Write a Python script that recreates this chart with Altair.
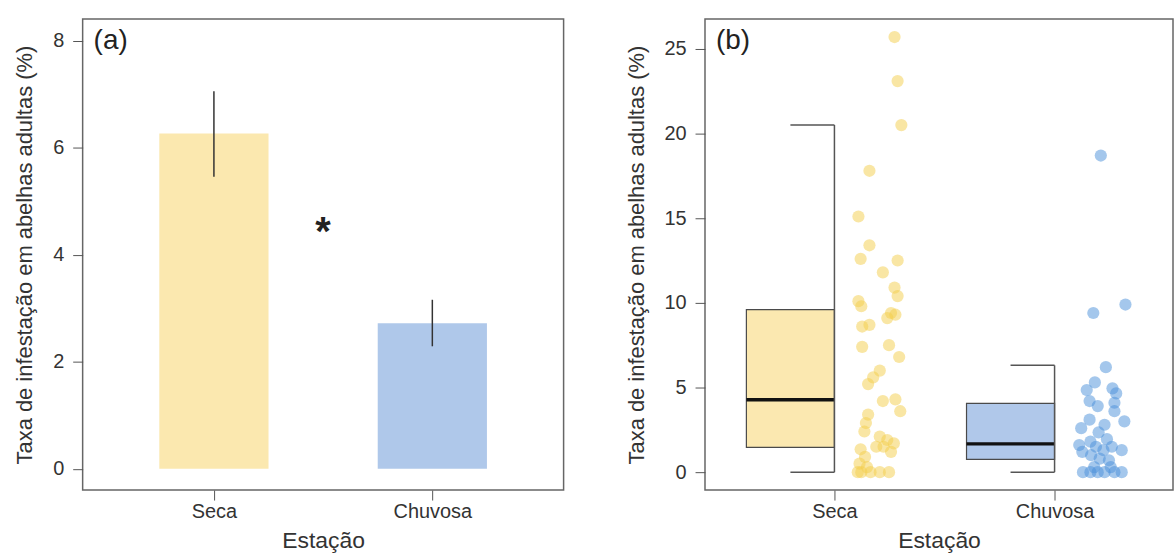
import altair as alt
import pandas as pd

# ---------------- data ----------------
categories = ["Seca", "Chuvosa"]
cat_pos = [1, 2]

# panel (a): means and error bars
bar_means = [6.27, 2.72]
err_low = [5.46, 2.29]
err_high = [7.06, 3.16]
bar_colors = ["#FBE8AF", "#AFC8EA"]

# panel (b): box summaries
box_q1 = [1.46, 0.75]
box_median = [4.27, 1.67]
box_q3 = [9.6, 4.06]
whisk_lo = [0.0, 0.0]
whisk_hi = [20.5, 6.31]
box_colors = ["#FBE8B0", "#B0C8EA"]
point_colors = ["#F4CE4A", "#4A90DA"]

seca_values = [25.7, 23.1, 20.5, 17.8, 15.1, 13.4, 12.6, 12.5, 11.8, 10.9,
               10.4, 10.1, 9.8, 9.4, 9.3, 9.1, 8.7, 8.6, 7.4, 7.5,
               6.8, 6.0, 5.6, 5.2, 4.2, 4.3, 3.6, 3.4, 2.9, 2.4,
               2.1, 1.9, 1.7, 1.5, 1.2, 1.35, 0.9, 0.5, 1.5, 0.0,
               0.0, 0.0, 0.0, 0.0, 0.3]
seca_jitter = [0.273, 0.287, 0.304, 0.159, 0.109, 0.159, 0.119, 0.287, 0.220, 0.273,
               0.287, 0.109, 0.122, 0.257, 0.277, 0.240, 0.159, 0.126, 0.126, 0.248,
               0.294, 0.206, 0.176, 0.153, 0.220, 0.277, 0.299, 0.153, 0.143, 0.136,
               0.206, 0.240, 0.270, 0.223, 0.257, 0.119, 0.139, 0.114, 0.190, 0.122,
               0.164, 0.206, 0.248, 0.106, 0.148]

chuvosa_values = [18.7, 9.9, 9.4, 6.2, 5.3, 4.85, 4.95, 4.65, 4.2, 4.1,
                  3.9, 3.6, 3.0, 3.1, 2.6, 2.8, 2.35, 1.95, 1.8, 1.6,
                  1.5, 1.3, 1.5, 1.3, 1.2, 1.0, 0.8, 0.7, 0.0, 0.0,
                  0.0, 0.0, 0.0, 0.0, 0.3, 0.3]
chuvosa_jitter = [0.210, 0.322, 0.176, 0.233, 0.183, 0.146, 0.263, 0.280, 0.159, 0.272,
                  0.196, 0.272, 0.317, 0.159, 0.121, 0.227, 0.200, 0.238, 0.163, 0.112,
                  0.188, 0.222, 0.260, 0.305, 0.126, 0.166, 0.205, 0.247, 0.129, 0.163,
                  0.196, 0.227, 0.272, 0.305, 0.180, 0.255]

y_ticks_a = [0, 2, 4, 6, 8]
y_ticks_b = [0, 5, 10, 15, 20, 25]
y_title = "Taxa de infestação em abelhas adultas (%)"
x_title = "Estação"

FONT = "Liberation Sans"
TXT = "#333333"

label_expr = "datum.value == 1 ? 'Seca' : 'Chuvosa'"

# ---------------- panel (a) ----------------
dfa = pd.DataFrame({"cat": categories, "pos": cat_pos, "mean": bar_means,
                    "lo": err_low, "hi": err_high})
dfa["x0"] = dfa["pos"] - 0.25
dfa["x1"] = dfa["pos"] + 0.25

xa_scale = alt.Scale(domain=[0.399, 2.601], nice=False, zero=False)
ya_scale = alt.Scale(domain=[-0.4, 8.41], nice=False, zero=False)
xa_axis = alt.Axis(values=[1, 2], labelExpr=label_expr, title=x_title)
ya_axis = alt.Axis(values=y_ticks_a, title=y_title)

bars = alt.Chart(dfa).mark_rect().encode(
    x=alt.X("x0:Q", scale=xa_scale, axis=xa_axis),
    x2="x1:Q",
    y=alt.Y("mean:Q", scale=ya_scale, axis=ya_axis),
    y2=alt.datum(0),
    color=alt.Color("cat:N", scale=alt.Scale(domain=categories, range=bar_colors), legend=None),
)
errs = alt.Chart(dfa).mark_rule(color="#333333", strokeWidth=1.5).encode(
    x=alt.X("pos:Q", scale=xa_scale, axis=xa_axis),
    y=alt.Y("lo:Q", scale=ya_scale, axis=ya_axis),
    y2="hi:Q",
)
star_df = pd.DataFrame({"x": [1.5], "y": [4.57], "t": ["*"]})
star = alt.Chart(star_df).mark_text(fontSize=40, fontWeight="bold", font=FONT,
                                    color="#222222", baseline="alphabetic", dy=21).encode(
    x=alt.X("x:Q", scale=xa_scale, axis=xa_axis),
    y=alt.Y("y:Q", scale=ya_scale, axis=ya_axis),
    text="t:N",
)
lab_a = alt.Chart(pd.DataFrame({"t": ["(a)"]})).mark_text(
    fontSize=28, font=FONT, color="#222222", align="left", baseline="middle").encode(
    x=alt.value(11), y=alt.value(22), text="t:N")

panel_a = alt.layer(bars, errs, star, lab_a).properties(width=483, height=473)

# ---------------- panel (b) ----------------
dfb = pd.DataFrame({"cat": categories, "pos": cat_pos, "q1": box_q1, "med": box_median,
                    "q3": box_q3, "lo": whisk_lo, "hi": whisk_hi})
dfb["xl"] = dfb["pos"] - 0.4
dfb["xc"] = dfb["pos"] - 0.2

pts = pd.concat([
    pd.DataFrame({"cat": "Seca", "v": seca_values, "j": seca_jitter, "pos": 1}),
    pd.DataFrame({"cat": "Chuvosa", "v": chuvosa_values, "j": chuvosa_jitter, "pos": 2}),
], ignore_index=True)
pts["x"] = pts["pos"] + pts["j"]

xb_scale = alt.Scale(domain=[0.412, 2.538], nice=False, zero=False)
yb_scale = alt.Scale(domain=[-1.06, 26.76], nice=False, zero=False)
xb_axis = alt.Axis(values=[1, 2], labelExpr=label_expr, title=x_title)
yb_axis = alt.Axis(values=y_ticks_b, title=y_title)

box = alt.Chart(dfb).mark_rect(stroke="#4a4a4a", strokeWidth=1.2).encode(
    x=alt.X("xl:Q", scale=xb_scale, axis=xb_axis),
    x2="pos:Q",
    y=alt.Y("q1:Q", scale=yb_scale, axis=yb_axis),
    y2="q3:Q",
    color=alt.Color("cat:N", scale=alt.Scale(domain=categories, range=box_colors), legend=None),
)
med = alt.Chart(dfb).mark_rule(color="#111111", strokeWidth=3.5).encode(
    x=alt.X("xl:Q", scale=xb_scale, axis=xb_axis),
    x2="pos:Q",
    y=alt.Y("med:Q", scale=yb_scale, axis=yb_axis),
)
whisk = alt.Chart(dfb).mark_rule(color="#555555", strokeWidth=1.5).encode(
    x=alt.X("pos:Q", scale=xb_scale, axis=xb_axis),
    y=alt.Y("lo:Q", scale=yb_scale, axis=yb_axis),
    y2="hi:Q",
)
cap_lo = alt.Chart(dfb).mark_rule(color="#555555", strokeWidth=1.5).encode(
    x=alt.X("xc:Q", scale=xb_scale, axis=xb_axis),
    x2="pos:Q",
    y=alt.Y("lo:Q", scale=yb_scale, axis=yb_axis),
)
cap_hi = alt.Chart(dfb).mark_rule(color="#555555", strokeWidth=1.5).encode(
    x=alt.X("xc:Q", scale=xb_scale, axis=xb_axis),
    x2="pos:Q",
    y=alt.Y("hi:Q", scale=yb_scale, axis=yb_axis),
)
points = alt.Chart(pts).mark_circle(size=150, opacity=0.5).encode(
    x=alt.X("x:Q", scale=xb_scale, axis=xb_axis),
    y=alt.Y("v:Q", scale=yb_scale, axis=yb_axis),
    color=alt.Color("cat:N", scale=alt.Scale(domain=categories, range=point_colors), legend=None),
)
lab_b = alt.Chart(pd.DataFrame({"t": ["(b)"]})).mark_text(
    fontSize=28, font=FONT, color="#222222", align="left", baseline="middle").encode(
    x=alt.value(11), y=alt.value(22), text="t:N")

panel_b = alt.layer(box, med, whisk, cap_lo, cap_hi, points, lab_b).resolve_scale(
    color="independent").properties(width=470, height=473)

chart = alt.hconcat(panel_a, panel_b, spacing=60).properties(
    padding={"left": 13, "top": 17, "right": 0, "bottom": 0},
    background="white",
).configure_view(
    stroke="#666666", strokeWidth=1.5
).configure_axis(
    grid=False, domain=False, tickSize=10, tickColor="#555555", tickWidth=1,
    labelFont=FONT, titleFont=FONT, labelFontSize=20, titleFontSize=22,
    labelColor=TXT, titleColor=TXT, titleFontWeight="normal",
    labelPadding=9, titlePadding=16,
).configure_axisX(
    labelPadding=2, titlePadding=8, titleFontSize=23,
)

chart.save("out.html", embed_options={"renderer": "svg", "actions": False})
